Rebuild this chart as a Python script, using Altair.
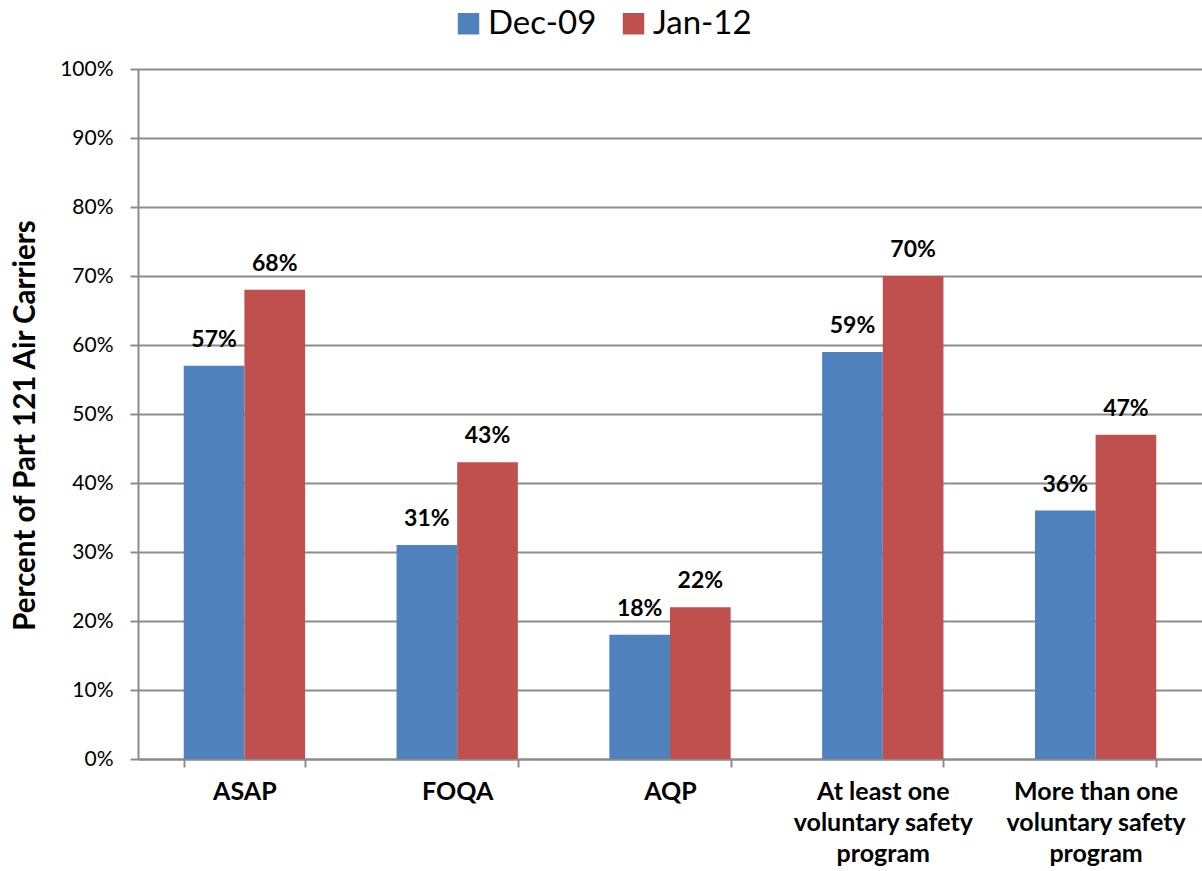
import altair as alt
import pandas as pd

categories = ["ASAP", "FOQA", "AQP", "At least one|voluntary safety|program", "More than one|voluntary safety|program"]
series = ["Dec-09", "Jan-12"]
dec09 = [57, 31, 18, 59, 36]
jan12 = [68, 43, 22, 70, 47]
colors = ["#4F81BD", "#C0504D"]

rows = []
for c, a, b in zip(categories, dec09, jan12):
    rows.append({"cat": c, "series": "Dec-09", "value": a / 100, "label": f"{a}%"})
    rows.append({"cat": c, "series": "Jan-12", "value": b / 100, "label": f"{b}%"})
df = pd.DataFrame(rows)

FONT = "Lato"
GRID = "#8c8c8c"

x = alt.X("cat:N", sort=categories, title=None,
          scale=alt.Scale(paddingInner=0.43, paddingOuter=0.215),
          axis=alt.Axis(labelExpr="split(datum.label, '|')", labelAngle=0,
                        labelFont=FONT, labelFontSize=25, labelFontWeight="bold",
                        labelColor="black", labelLineHeight=31, labelPadding=12,
                        labelBaseline="top",
                        tickBand="extent", tickSize=8, tickColor=GRID, tickWidth=2,
                        domainColor=GRID, domainWidth=2, grid=False))
y = alt.Y("value:Q", scale=alt.Scale(domain=[0, 1]),
          axis=alt.Axis(format=".0%", values=[i / 10 for i in range(11)],
                        labelFont=FONT, labelFontSize=21, labelColor="black",
                        labelPadding=17,
                        tickSize=8, tickColor=GRID, tickWidth=2,
                        domainColor=GRID, domainWidth=2,
                        gridColor=GRID, gridWidth=2,
                        title="Percent of Part 121 Air Carriers",
                        titleFont=FONT, titleFontSize=29.5, titleFontWeight="bold",
                        titleColor="black", titleX=-113, titleY=356,
                        titleAngle=-90, titleAlign="center", titleBaseline="middle"))

base = alt.Chart(df).encode(x=x, xOffset=alt.XOffset("series:N", sort=series))

bars = base.mark_bar().encode(
    y=y,
    color=alt.Color("series:N", sort=series,
                    scale=alt.Scale(domain=series, range=colors),
                    legend=alt.Legend(title=None, orient="none", direction="horizontal",
                                      legendX=314, legendY=-62,
                                      labelFont=FONT, labelFontSize=33, labelColor="black",
                                      symbolType="square", symbolSize=460,
                                      symbolStrokeWidth=0, columnPadding=20,
                                      labelOffset=3)),
)

labels = base.mark_text(font=FONT, fontSize=23, fontWeight="bold", color="black",
                        baseline="alphabetic", dy=-19).encode(
    y=alt.Y("value:Q"), text="label:N")

chart = alt.layer(bars, labels).properties(
    width=1064, height=690,
    autosize=alt.AutoSizeParams(type="none"),
    padding={"left": 138, "top": 69, "right": 0, "bottom": 112},
).configure_view(stroke=None).configure(background="white")

chart.save("out.html", embed_options={"renderer": "svg", "actions": False})
